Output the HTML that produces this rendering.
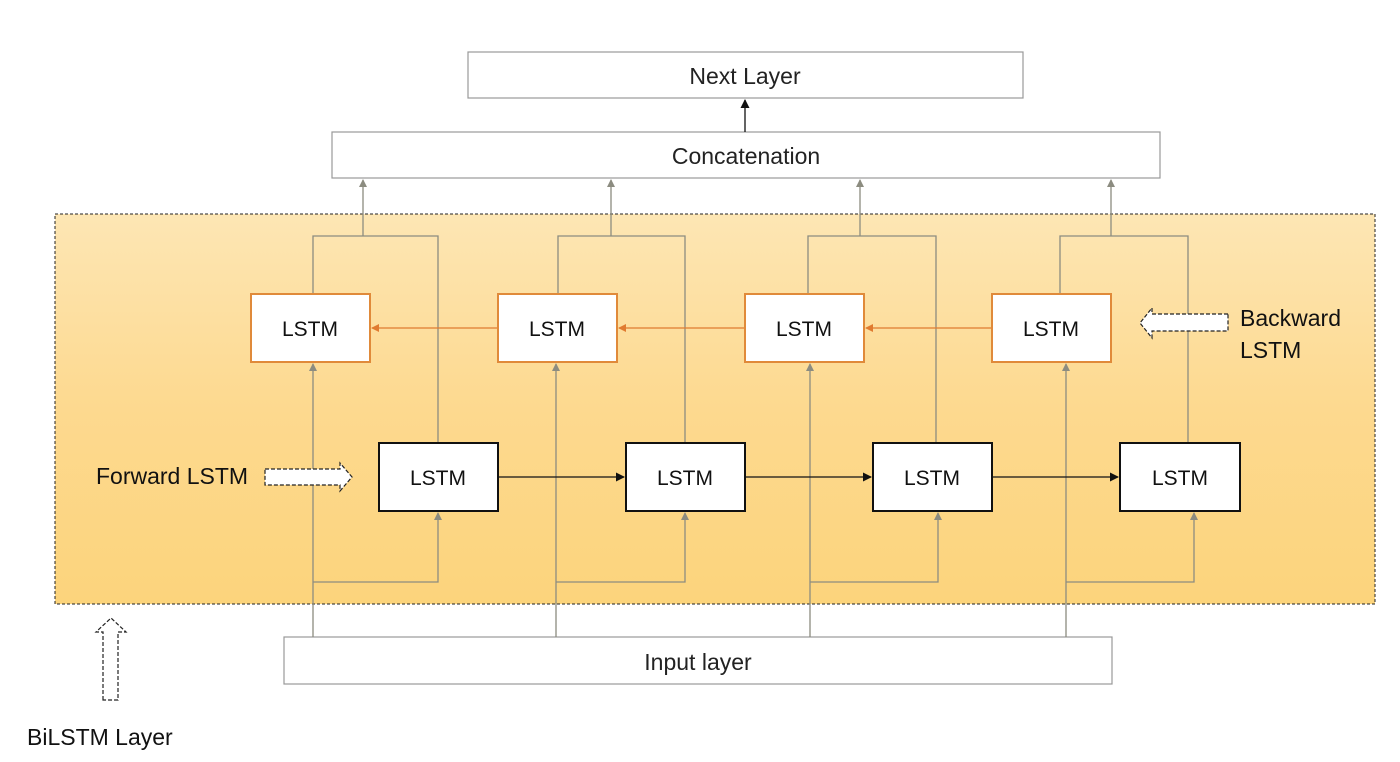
<!DOCTYPE html>
<html><head><style>
html,body{margin:0;padding:0;background:#fff;}
svg{display:block;font-family:"Liberation Sans",sans-serif;}
</style></head><body>
<svg width="1400" height="762" viewBox="0 0 1400 762" xmlns="http://www.w3.org/2000/svg">
<defs>
<linearGradient id="g" x1="0" y1="0" x2="0" y2="1">
<stop offset="0" stop-color="#fde6b4"/>
<stop offset="0.5" stop-color="#fdd98f"/>
<stop offset="1" stop-color="#fcd47c"/>
</linearGradient>
<marker id="ag" markerWidth="8" markerHeight="8" refX="7" refY="4" orient="auto" markerUnits="userSpaceOnUse"><path d="M0,0 L8,4 L0,8 z" fill="#8c8c80"/></marker>
<marker id="ao" markerWidth="8" markerHeight="8" refX="7" refY="4" orient="auto" markerUnits="userSpaceOnUse"><path d="M0,0 L8,4 L0,8 z" fill="#e07b30"/></marker>
<marker id="ab" markerWidth="9" markerHeight="9" refX="8" refY="4.5" orient="auto" markerUnits="userSpaceOnUse"><path d="M0,0 L9,4.5 L0,9 z" fill="#111"/></marker>
</defs>
<rect x="55" y="214" width="1320" height="390" fill="url(#g)" stroke="#222" stroke-width="1" stroke-dasharray="3,2"/>
<rect x="468" y="52" width="555" height="46" fill="#fff" stroke="#999" stroke-width="1.2"/>
<text x="745" y="84" font-size="23" text-anchor="middle" fill="#222">Next Layer</text>
<rect x="332" y="132" width="828" height="46" fill="#fff" stroke="#999" stroke-width="1.2"/>
<text x="746" y="164" font-size="23" text-anchor="middle" fill="#222">Concatenation</text>
<line x1="745" y1="132" x2="745" y2="100" stroke="#111" stroke-width="1.3" marker-end="url(#ab)"/>
<rect x="284" y="637" width="828" height="47" fill="#fff" stroke="#999" stroke-width="1.2"/>
<text x="698" y="670" font-size="23" text-anchor="middle" fill="#222">Input layer</text>
<g stroke="#8c8c80" stroke-width="1.3" fill="none">
<line x1="313" y1="637" x2="313" y2="364" marker-end="url(#ag)"/>
<polyline points="313,582 438,582 438,513" marker-end="url(#ag)"/>
<polyline points="313,294 313,236 438,236 438,443"/>
<line x1="363" y1="236" x2="363" y2="180" marker-end="url(#ag)"/>
<line x1="556" y1="637" x2="556" y2="364" marker-end="url(#ag)"/>
<polyline points="556,582 685,582 685,513" marker-end="url(#ag)"/>
<polyline points="558,294 558,236 685,236 685,443"/>
<line x1="611" y1="236" x2="611" y2="180" marker-end="url(#ag)"/>
<line x1="810" y1="637" x2="810" y2="364" marker-end="url(#ag)"/>
<polyline points="810,582 938,582 938,513" marker-end="url(#ag)"/>
<polyline points="808,294 808,236 936,236 936,443"/>
<line x1="860" y1="236" x2="860" y2="180" marker-end="url(#ag)"/>
<line x1="1066" y1="637" x2="1066" y2="364" marker-end="url(#ag)"/>
<polyline points="1066,582 1194,582 1194,513" marker-end="url(#ag)"/>
<polyline points="1060,294 1060,236 1188,236 1188,443"/>
<line x1="1111" y1="236" x2="1111" y2="180" marker-end="url(#ag)"/>
</g>
<g stroke="#e07b30" stroke-width="1.3">
<line x1="498" y1="328" x2="372" y2="328" marker-end="url(#ao)"/>
<line x1="745" y1="328" x2="619" y2="328" marker-end="url(#ao)"/>
<line x1="992" y1="328" x2="866" y2="328" marker-end="url(#ao)"/>
</g>
<g stroke="#111" stroke-width="1.3">
<line x1="498" y1="477" x2="624" y2="477" marker-end="url(#ab)"/>
<line x1="745" y1="477" x2="871" y2="477" marker-end="url(#ab)"/>
<line x1="992" y1="477" x2="1118" y2="477" marker-end="url(#ab)"/>
</g>
<g fill="#fff" stroke="#e08a3a" stroke-width="2">
<rect x="251" y="294" width="119" height="68"/>
<rect x="498" y="294" width="119" height="68"/>
<rect x="745" y="294" width="119" height="68"/>
<rect x="992" y="294" width="119" height="68"/>
</g>
<g fill="#fff" stroke="#111" stroke-width="2">
<rect x="379" y="443" width="119" height="68"/>
<rect x="626" y="443" width="119" height="68"/>
<rect x="873" y="443" width="119" height="68"/>
<rect x="1120" y="443" width="120" height="68"/>
</g>
<g font-size="21" text-anchor="middle" fill="#111">
<text x="310" y="336">LSTM</text>
<text x="557" y="336">LSTM</text>
<text x="804" y="336">LSTM</text>
<text x="1051" y="336">LSTM</text>
<text x="438" y="485">LSTM</text>
<text x="685" y="485">LSTM</text>
<text x="932" y="485">LSTM</text>
<text x="1180" y="485">LSTM</text>
</g>
<g font-size="23" fill="#111">
<text x="96" y="484">Forward LSTM</text>
<text x="1240" y="326">Backward</text>
<text x="1240" y="358">LSTM</text>
<text x="27" y="745">BiLSTM Layer</text>
</g>
<g fill="#fff" stroke="#222" stroke-width="1.2" stroke-dasharray="4,2">
<path d="M265,469 L340,469 L340,463 L352,477 L340,491 L340,485 L265,485 z"/>
<path d="M1228,314 L1152,314 L1152,308 L1140,323 L1152,338 L1152,331 L1228,331 z"/>
<path d="M103,700 L103,632 L96,632 L111,618 L126,632 L118,632 L118,700 z"/>
</g>
</svg>
</body></html>
